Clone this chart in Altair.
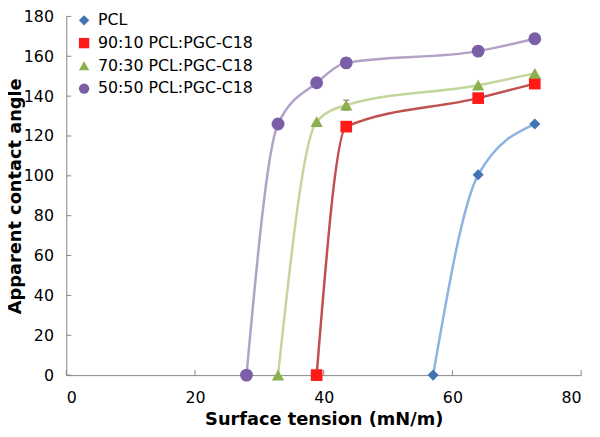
import altair as alt
import pandas as pd

series = ["PCL", "90:10 PCL:PGC-C18", "70:30 PCL:PGC-C18", "50:50 PCL:PGC-C18"]

pcl_x = [57.0, 64.0, 72.8]
pcl_y = [0.0, 100.5, 126.0]
pcl_err = [0, 0, 0]

r90_x = [38.9, 43.5, 64.0, 72.8]
r90_y = [0.0, 124.7, 139.0, 146.3]
r90_err = [0, 0, 0, 0]

r70_x = [32.9, 38.9, 43.5, 64.0, 72.8]
r70_y = [0.0, 127.2, 135.5, 145.5, 151.4]
r70_err = [0, 0, 2.5, 0, 0]

r50_x = [28.0, 32.9, 38.9, 43.5, 64.0, 72.8]
r50_y = [0.0, 126.0, 146.7, 156.7, 162.6, 168.8]
r50_err = [0, 0, 0, 0, 0, 2.5]

x_ticks = [0, 20, 40, 60, 80]
y_ticks = [0, 20, 40, 60, 80, 100, 120, 140, 160, 180]

marker_colors = ["#4374B3", "#FF1A1A", "#8DB04E", "#7A5FA6"]
line_colors = ["#8DB3E2", "#C0504D", "#C3D69B", "#B3A2C7"]
shapes = ["diamond", "square", "triangle-up", "circle"]
sizes = [100, 144, 125, 170]

rows = []
for name, xs_, ys_, es in [
    (series[0], pcl_x, pcl_y, pcl_err),
    (series[1], r90_x, r90_y, r90_err),
    (series[2], r70_x, r70_y, r70_err),
    (series[3], r50_x, r50_y, r50_err),
]:
    for xv, yv, ev in zip(xs_, ys_, es):
        rows.append({"series": name, "curve": name, "x": xv, "y": yv, "err": ev,
                     "lo": yv - ev, "hi": yv + ev})
df = pd.DataFrame(rows)

W, H = 521, 363
FONT = "DejaVu Sans"

xs = alt.Scale(domain=[0, 80], nice=False, zero=True)
ys = alt.Scale(domain=[0, 180], nice=False)

xenc = alt.X("x:Q", scale=xs, axis=alt.Axis(
    values=x_ticks, title="Surface tension (mN/m)", labelPadding=15,
    titlePadding=5))
yenc = alt.Y("y:Q", scale=ys, axis=alt.Axis(
    values=y_ticks, title="Apparent contact angle", labelPadding=13,
    titleX=-46, titleY=H / 2, titleBaseline="alphabetic"))

base = alt.Chart(df)

# reversed domain order keeps these hidden-legend scales from merging with the visible legend
rev_series = series[::-1]

lines = base.mark_line(interpolate="monotone", strokeWidth=2.5).encode(
    x=xenc, y=yenc,
    stroke=alt.Stroke("curve:N", scale=alt.Scale(domain=rev_series, range=line_colors[::-1]),
                      legend=None),
    detail="curve:N",
)

errs = base.transform_filter("datum.err > 0").mark_rule(color="#333333", strokeWidth=1).encode(
    x="x:Q", y="lo:Q", y2="hi:Q")
caps_hi = base.transform_filter("datum.err > 0").mark_tick(
    color="#333333", orient="horizontal", size=6, thickness=1).encode(x="x:Q", y="hi:Q")
caps_lo = base.transform_filter("datum.err > 0").mark_tick(
    color="#333333", orient="horizontal", size=6, thickness=1).encode(x="x:Q", y="lo:Q")

leg = alt.Legend(title=None, orient="none", legendX=10, legendY=-4,
                 labelFontSize=16, labelFont=FONT, labelColor="black",
                 symbolSize=110, rowPadding=7, labelOffset=6, padding=0,
                 symbolStrokeWidth=0)

points = base.mark_point(filled=True, opacity=1, strokeWidth=0).encode(
    x=xenc, y=yenc,
    fill=alt.Fill("series:N", scale=alt.Scale(domain=series, range=marker_colors),
                  legend=leg),
    shape=alt.Shape("series:N", scale=alt.Scale(domain=series, range=shapes),
                    legend=leg),
    size=alt.Size("curve:N", scale=alt.Scale(domain=rev_series, range=sizes[::-1]),
                  legend=None),
)

xt_df = pd.DataFrame({"t": x_ticks})
yt_df = pd.DataFrame({"t": y_ticks})
xtick_marks = alt.Chart(xt_df).mark_rule(color="#868686", strokeWidth=1).encode(
    x=alt.X("t:Q", scale=xs), y=alt.value(H), y2=alt.value(H - 5))
ytick_marks = alt.Chart(yt_df).mark_rule(color="#868686", strokeWidth=1).encode(
    y=alt.Y("t:Q", scale=ys), x=alt.value(0), x2=alt.value(5))

chart = alt.layer(xtick_marks, ytick_marks, lines, errs, caps_hi, caps_lo, points).properties(
    width=W, height=H,
    autosize=alt.AutoSizeParams(type="none"),
    padding={"left": 59, "top": 6, "right": 11, "bottom": 52},
).configure_view(stroke=None).configure_axis(
    grid=False, domainColor="#868686", domainWidth=1, tickSize=0,
    labelFont=FONT, labelFontSize=16, labelColor="black",
    titleFont=FONT, titleFontSize=18, titleFontWeight="bold", titleColor="black",
)

chart.save("out.html", embed_options={"renderer": "svg", "actions": False})
